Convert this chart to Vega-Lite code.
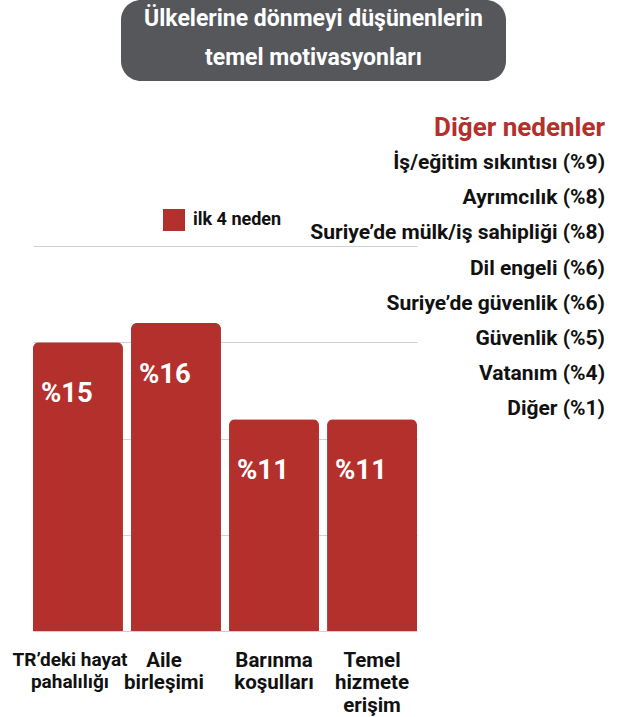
{
  "$schema": "https://vega.github.io/schema/vega-lite/v6.json",
  "background": "white",
  "padding": {"left": 11, "top": 0, "right": 0, "bottom": 0},
  "bounds": "flush",
  "spacing": 246,
  "config": {"view": {"stroke": null}, "font": "Roboto"},
  "vconcat": [
    {
      "bounds": "flush",
      "spacing": 0,
      "hconcat": [
        {"width": 88, "height": 81, "data": {"values": []}, "mark": "point"},
        {
          "width": 385,
          "height": 81,
          "data": {"values": [{"Baslik": "Ülkelerine dönmeyi düşünenlerin\ntemel motivasyonları"}]},
          "layer": [
            {"mark": {"type": "rect", "fill": "#55575B", "cornerRadius": 20}, "encoding": {}},
            {
              "mark": {"type": "text", "color": "#ffffff", "fontSize": 23, "fontWeight": "bold", "lineBreak": "\n", "lineHeight": 39, "baseline": "middle", "dy": -22},
              "encoding": {"text": {"field": "Baslik", "type": "nominal"}}
            }
          ]
        }
      ]
    },
    {
      "width": 384,
      "height": 385,
      "layer": [
        {
          "data": {
            "values": [
              {"Neden": "TR’deki hayat|pahalılığı", "Pay": 15, "Etiket": "%15", "Grup": "ilk 4 neden"},
              {"Neden": "Aile|birleşimi", "Pay": 16, "Etiket": "%16", "Grup": "ilk 4 neden"},
              {"Neden": "Barınma|koşulları", "Pay": 11, "Etiket": "%11", "Grup": "ilk 4 neden"},
              {"Neden": "Temel|hizmete|erişim", "Pay": 11, "Etiket": "%11", "Grup": "ilk 4 neden"}
            ]
          },
          "layer": [
            {
              "mark": {"type": "bar", "cornerRadiusTopLeft": 6, "cornerRadiusTopRight": 6},
              "encoding": {
                "x": {
                  "field": "Neden", "type": "nominal", "sort": null,
                  "scale": {"paddingInner": 0.082, "paddingOuter": 0},
                  "axis": {
                    "title": null,
                    "labelExpr": "split(datum.label, '|')",
                    "labelAngle": 0,
                    "labelFontSize": {"condition": {"test": "indexof(datum.value, 'TR') == 0", "value": 19}, "value": 20.5},
                    "labelOffset": {"condition": [
                      {"test": "indexof(datum.value, 'TR') == 0", "value": -8},
                      {"test": "indexof(datum.value, 'Aile') == 0", "value": -12}
                    ], "value": 0},
                    "labelFontWeight": "bold",
                    "labelColor": "#111111",
                    "labelLineHeight": 22.5,
                    "labelPadding": 19,
                    "labelLimit": 0,
                    "ticks": false,
                    "domain": false
                  }
                },
                "y": {
                  "field": "Pay", "type": "quantitative",
                  "scale": {"domain": [0, 20], "nice": false},
                  "axis": {"title": null, "values": [0, 5, 10, 15, 20], "labels": false, "ticks": false, "domain": false, "gridColor": "#d0d0d0", "gridWidth": 1}
                },
                "color": {
                  "field": "Grup", "type": "nominal",
                  "scale": {"range": ["#B3302D"]},
                  "legend": {
                    "orient": "none", "legendX": 130, "legendY": 209, "title": null, "padding": 0,
                    "symbolType": "square", "symbolSize": 484, "symbolStrokeWidth": 0,
                    "labelFontSize": 18, "labelFontWeight": "bold", "labelColor": "#111111", "labelOffset": 8
                  }
                }
              }
            },
            {
              "mark": {"type": "text", "align": "left", "baseline": "middle", "dx": 8, "dy": 52, "color": "#ffffff", "fontSize": 27.5, "fontWeight": "bold"},
              "encoding": {
                "x": {"field": "Neden", "type": "nominal", "sort": null, "bandPosition": 0},
                "y": {"field": "Pay", "type": "quantitative"},
                "text": {"field": "Etiket", "type": "nominal"}
              }
            }
          ]
        },
        {
          "data": {
            "values": [
              {"Etiket": "Diğer nedenler", "Tur": "baslik"},
              {"Etiket": "İş/eğitim sıkıntısı (%9)", "Pay": 9, "Tur": "neden"},
              {"Etiket": "Ayrımcılık (%8)", "Pay": 8, "Tur": "neden"},
              {"Etiket": "Suriye’de mülk/iş sahipliği (%8)", "Pay": 8, "Tur": "neden"},
              {"Etiket": "Dil engeli (%6)", "Pay": 6, "Tur": "neden"},
              {"Etiket": "Suriye’de güvenlik (%6)", "Pay": 6, "Tur": "neden"},
              {"Etiket": "Güvenlik (%5)", "Pay": 5, "Tur": "neden"},
              {"Etiket": "Vatanım (%4)", "Pay": 4, "Tur": "neden"},
              {"Etiket": "Diğer (%1)", "Pay": 1, "Tur": "neden"}
            ]
          },
          "mark": {"type": "text", "align": "right", "baseline": "middle", "dx": 188, "fontWeight": "bold"},
          "encoding": {
            "x": {"value": "width"},
            "y": {"field": "Etiket", "type": "nominal", "sort": null, "axis": null, "scale": {"type": "point", "range": [-118, 163], "padding": 0}},
            "text": {"field": "Etiket", "type": "nominal"},
            "color": {"condition": {"test": "datum.Tur == 'baslik'", "value": "#B3302D"}, "value": "#111111"},
            "size": {"condition": {"test": "datum.Tur == 'baslik'", "value": 26}, "value": 21}
          }
        }
      ],
      "resolve": {"scale": {"y": "independent"}}
    }
  ]
}
